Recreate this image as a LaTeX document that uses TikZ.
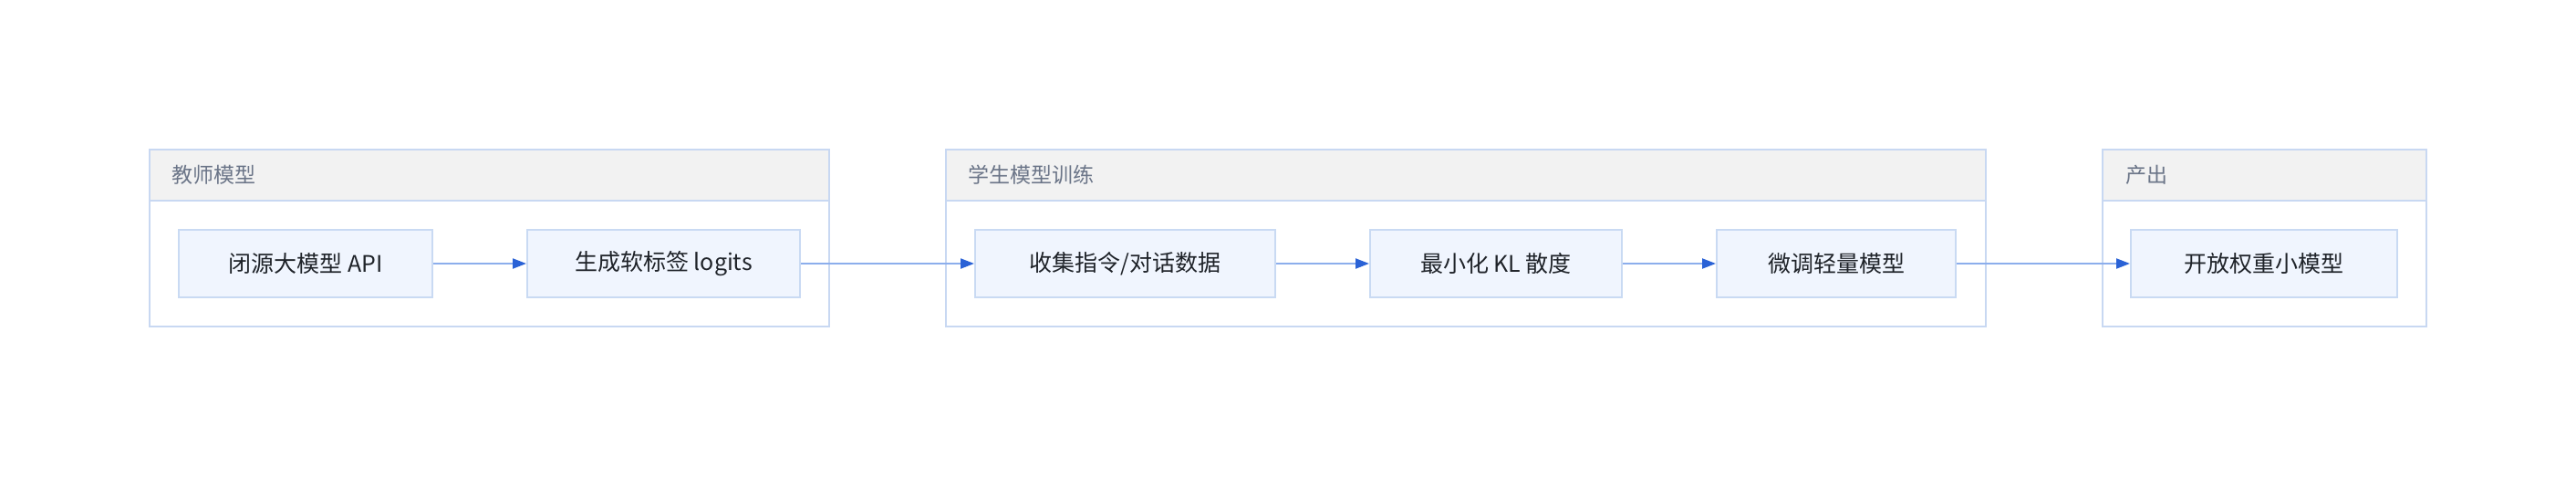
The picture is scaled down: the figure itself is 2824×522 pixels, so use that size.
\documentclass[tikz,border=0pt]{standalone}
\usepackage{fontspec}
\setmainfont{Noto Sans CJK SC}
\usetikzlibrary{arrows.meta}
\definecolor{grpborder}{HTML}{C8D8F2}
\definecolor{grphead}{HTML}{F2F2F2}
\definecolor{nodefill}{HTML}{F0F5FE}
\definecolor{nodeborder}{HTML}{C9DAF3}
\definecolor{edgeline}{HTML}{8CAEEC}
\definecolor{edgetip}{HTML}{2A62D6}
\definecolor{txt}{HTML}{1F2329}
\definecolor{titletxt}{HTML}{6B7588}
\tikzset{
  stepbox/.style={draw=nodeborder, line width=2pt, fill=nodefill, inner sep=0pt,
    minimum height=74pt, text=txt, font=\fontsize{25}{30}\selectfont},
  grptitle/.style={anchor=west, inner sep=0pt, text=titletxt, font=\fontsize{23}{28}\selectfont},
  flow/.style={draw=edgeline, line width=2pt, -{Triangle[length=15pt,width=11pt,fill=edgetip,color=edgetip]}},
}
\begin{document}
\begin{tikzpicture}[x=1pt,y=-1pt]
\useasboundingbox[fill=white] (0,0) rectangle (2824,522);
% groups
\foreach \l/\r in {164/909, 1037/2177, 2305/2660}{
  \fill[white] (\l,164) rectangle (\r,358);
  \fill[grphead] (\l,164) rectangle (\r,220);
  \draw[grpborder, line width=2pt] (\l,220) -- (\r,220);
  \draw[grpborder, line width=2pt] (\l,164) rectangle (\r,358);
}
\node[grptitle] (t1) at (188,192) {教师模型};
\node[grptitle] (t2) at (1061,192) {学生模型训练};
\node[grptitle] (t3) at (2330,192) {产出};
% nodes
\node[stepbox, minimum width=278pt] (n1) at (335,289) {闭源大模型 API};
\node[stepbox, minimum width=299pt] (n2) at (727.5,289) {生成软标签 logits};
\node[stepbox, minimum width=329pt] (n3) at (1233.5,289) {收集指令/对话数据};
\node[stepbox, minimum width=276pt] (n4) at (1640,289) {最小化 KL 散度};
\node[stepbox, minimum width=262pt] (n5) at (2013,289) {微调轻量模型};
\node[stepbox, minimum width=292pt] (n6) at (2482,289) {开放权重小模型};
% edges
\draw[flow] (n1) -- (n2);
\draw[flow] (n2) -- (n3);
\draw[flow] (n3) -- (n4);
\draw[flow] (n4) -- (n5);
\draw[flow] (n5) -- (n6);
\end{tikzpicture}
\end{document}
